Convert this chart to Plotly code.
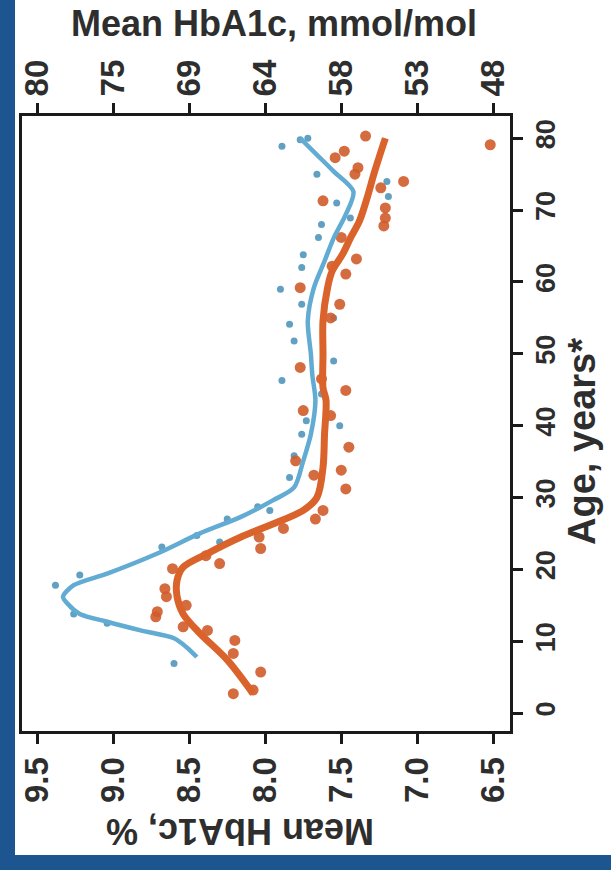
import plotly.graph_objects as go

# ---- data: mean HbA1c by age (two groups) ----
orange_dot_age = [2.7, 3.2, 5.7, 8.3, 10.1, 11.5, 12.0, 13.4, 14.1, 15.0, 16.2, 17.3, 20.1, 20.8,
                  21.9, 22.9, 24.5, 25.7, 27.0, 28.2, 31.2, 33.1, 33.8, 35.1, 37.0, 41.4, 42.1,
                  44.9, 46.5, 48.1, 55.0, 56.9, 59.2, 61.1, 62.2, 63.2, 66.2, 67.8, 68.9, 70.3,
                  71.3, 73.1, 74.0, 75.0, 75.9, 77.3, 78.2, 79.1, 80.3]
orange_dot_pct = [8.21, 8.08, 8.03, 8.21, 8.20, 8.38, 8.54, 8.72, 8.71, 8.52, 8.65, 8.66, 8.61, 8.30,
                  8.39, 8.03, 8.04, 7.88, 7.67, 7.62, 7.47, 7.68, 7.50, 7.80, 7.45, 7.57, 7.75,
                  7.47, 7.63, 7.77, 7.57, 7.51, 7.77, 7.47, 7.56, 7.40, 7.50, 7.22, 7.21, 7.21,
                  7.62, 7.24, 7.09, 7.41, 7.39, 7.54, 7.48, 6.52, 7.34]

blue_dot_age = [6.9, 12.5, 13.8, 17.8, 19.2, 23.1, 23.8, 24.7, 27.0, 28.2, 28.7, 32.8, 35.8, 38.8,
                40.0, 40.7, 44.4, 46.3, 49.0, 51.8, 54.1, 55.0, 56.9, 59.0, 62.0, 63.8, 66.2,
                68.0, 68.9, 71.0, 71.9, 74.0, 75.0, 78.9, 79.8, 80.0]
blue_dot_pct = [8.60, 9.04, 9.26, 9.38, 9.22, 8.68, 8.30, 8.45, 8.25, 7.97, 8.05, 7.84, 7.81, 7.76,
                7.51, 7.73, 7.63, 7.89, 7.55, 7.81, 7.84, 7.55, 7.76, 7.90, 7.76, 7.75, 7.65,
                7.63, 7.44, 7.53, 7.19, 7.20, 7.66, 7.89, 7.77, 7.72]

orange_fit_age = [2.7, 7.4, 11.1, 13.8, 16.2, 18.5, 20.3, 22.2, 24.5, 26.3, 28.2, 30.0, 34.2, 38.8,
                  43.5, 45.3, 50.0, 54.6, 59.2, 61.5, 63.9, 66.1, 68.5, 71.7, 75.4, 80.0]
orange_fit_pct = [8.08, 8.25, 8.43, 8.54, 8.58, 8.58, 8.54, 8.38, 8.16, 7.95, 7.75, 7.66, 7.62, 7.61,
                  7.60, 7.62, 7.62, 7.62, 7.59, 7.56, 7.49, 7.44, 7.38, 7.33, 7.28, 7.21]

blue_fit_age = [7.8, 9.2, 10.4, 11.5, 12.7, 13.8, 15.2, 16.2, 17.8, 19.4, 22.2, 25.0, 27.3, 29.6,
                31.4, 35.1, 38.8, 43.5, 47.0, 50.0, 54.6, 59.2, 62.9, 66.1, 69.4, 72.6, 75.4,
                77.7, 80.0]
blue_fit_pct = [8.45, 8.52, 8.60, 8.82, 9.04, 9.22, 9.30, 9.33, 9.26, 9.04, 8.71, 8.43, 8.16, 7.95,
                7.81, 7.75, 7.70, 7.67, 7.69, 7.70, 7.72, 7.68, 7.61, 7.55, 7.47, 7.42, 7.55,
                7.66, 7.77]

pct_ticks = [9.5, 9.0, 8.5, 8.0, 7.5, 7.0, 6.5]
pct_labels = ["9.5", "9.0", "8.5", "8.0", "7.5", "7.0", "6.5"]
mmol_labels = ["80", "75", "69", "64", "58", "53", "48"]
age_ticks = [0, 10, 20, 30, 40, 50, 60, 70, 80]

# ---- styling ----
W, H = 611, 870
L, R, T, B = 22, 101, 116, 139
BLUE = "#62abd3"
BLUE_DOT = "#5096ba"
ORANGE = "#da632c"
ORANGE_DOT = "#d05c2b"
INK = "#2e2e2e"
FONT = "Liberation Sans, Arial, sans-serif"
FRAME_BLUE = "#1d5590"

pw, ph = W - L - R, H - T - B


def px(xp):
    return (xp - L) / pw


def py(yp):
    return (H - B - yp) / ph


fig = go.Figure()

fig.add_trace(go.Scatter(x=blue_dot_pct, y=blue_dot_age, mode="markers",
                         marker=dict(size=7, color=BLUE_DOT, opacity=0.9),
                         showlegend=False, hoverinfo="skip"))
fig.add_trace(go.Scatter(x=orange_dot_pct, y=orange_dot_age, mode="markers",
                         marker=dict(size=11, color=ORANGE_DOT, opacity=0.9),
                         showlegend=False, hoverinfo="skip"))
fig.add_trace(go.Scatter(x=orange_fit_pct, y=orange_fit_age, mode="lines",
                         line=dict(color=ORANGE, width=7, shape="spline", smoothing=0.9),
                         showlegend=False, hoverinfo="skip"))
fig.add_trace(go.Scatter(x=blue_fit_pct, y=blue_fit_age, mode="lines",
                         line=dict(color=BLUE, width=4.5, shape="spline", smoothing=0.8),
                         showlegend=False, hoverinfo="skip"))
# empty trace so the mmol/mol axis on top is drawn
fig.add_trace(go.Scatter(x=[None], y=[None], xaxis="x2", mode="markers",
                         showlegend=False, hoverinfo="skip"))

tick_font = dict(family=FONT, size=33, color=INK, weight="bold")
axis_common = dict(showline=True, linecolor="#1a1a1a", linewidth=3, ticks="outside",
                   ticklen=10, tickwidth=3, tickcolor="#1a1a1a", showgrid=False,
                   zeroline=False, tickangle=-90, tickfont=tick_font)

fig.update_layout(
    width=W, height=H,
    margin=dict(l=L, r=R, t=T, b=B),
    paper_bgcolor="white", plot_bgcolor="white",
    xaxis=dict(range=[9.6, 6.39], tickvals=pct_ticks, ticktext=pct_labels,
               mirror=True, side="bottom", **axis_common),
    xaxis2=dict(range=[9.6, 6.39], tickvals=pct_ticks, ticktext=mmol_labels,
                overlaying="x", side="top", anchor="y", **axis_common),
    yaxis=dict(range=[-2.5, 83.1], tickvals=age_ticks, side="right", mirror=True,
               **{**axis_common, "tickfont": dict(family=FONT, size=27, color=INK, weight="bold")}),
    annotations=[
        dict(text="Mean HbA1c, mmol/mol", x=px(274), y=py(23), xref="paper", yref="paper",
             showarrow=False, font=dict(family=FONT, size=36, color=INK, weight="bold"),
             xanchor="center", yanchor="middle"),
        dict(text="Mean HbA1c, %", x=px(240), y=py(832), xref="paper", yref="paper",
             showarrow=False, textangle=180,
             font=dict(family=FONT, size=36, color=INK, weight="bold"),
             xanchor="center", yanchor="middle"),
        dict(text="Age, years*", x=px(582), y=py(442), xref="paper", yref="paper",
             showarrow=False, textangle=-90,
             font=dict(family=FONT, size=38, color=INK, weight="bold"),
             xanchor="center", yanchor="middle"),
    ],
    shapes=[
        dict(type="rect", xref="paper", yref="paper", x0=px(0), x1=px(15), y0=py(H), y1=py(0),
             fillcolor=FRAME_BLUE, line=dict(width=0), layer="above"),
        dict(type="rect", xref="paper", yref="paper", x0=px(0), x1=px(W), y0=py(H), y1=py(855),
             fillcolor=FRAME_BLUE, line=dict(width=0), layer="above"),
    ],
)

fig.write_html("out.html")
